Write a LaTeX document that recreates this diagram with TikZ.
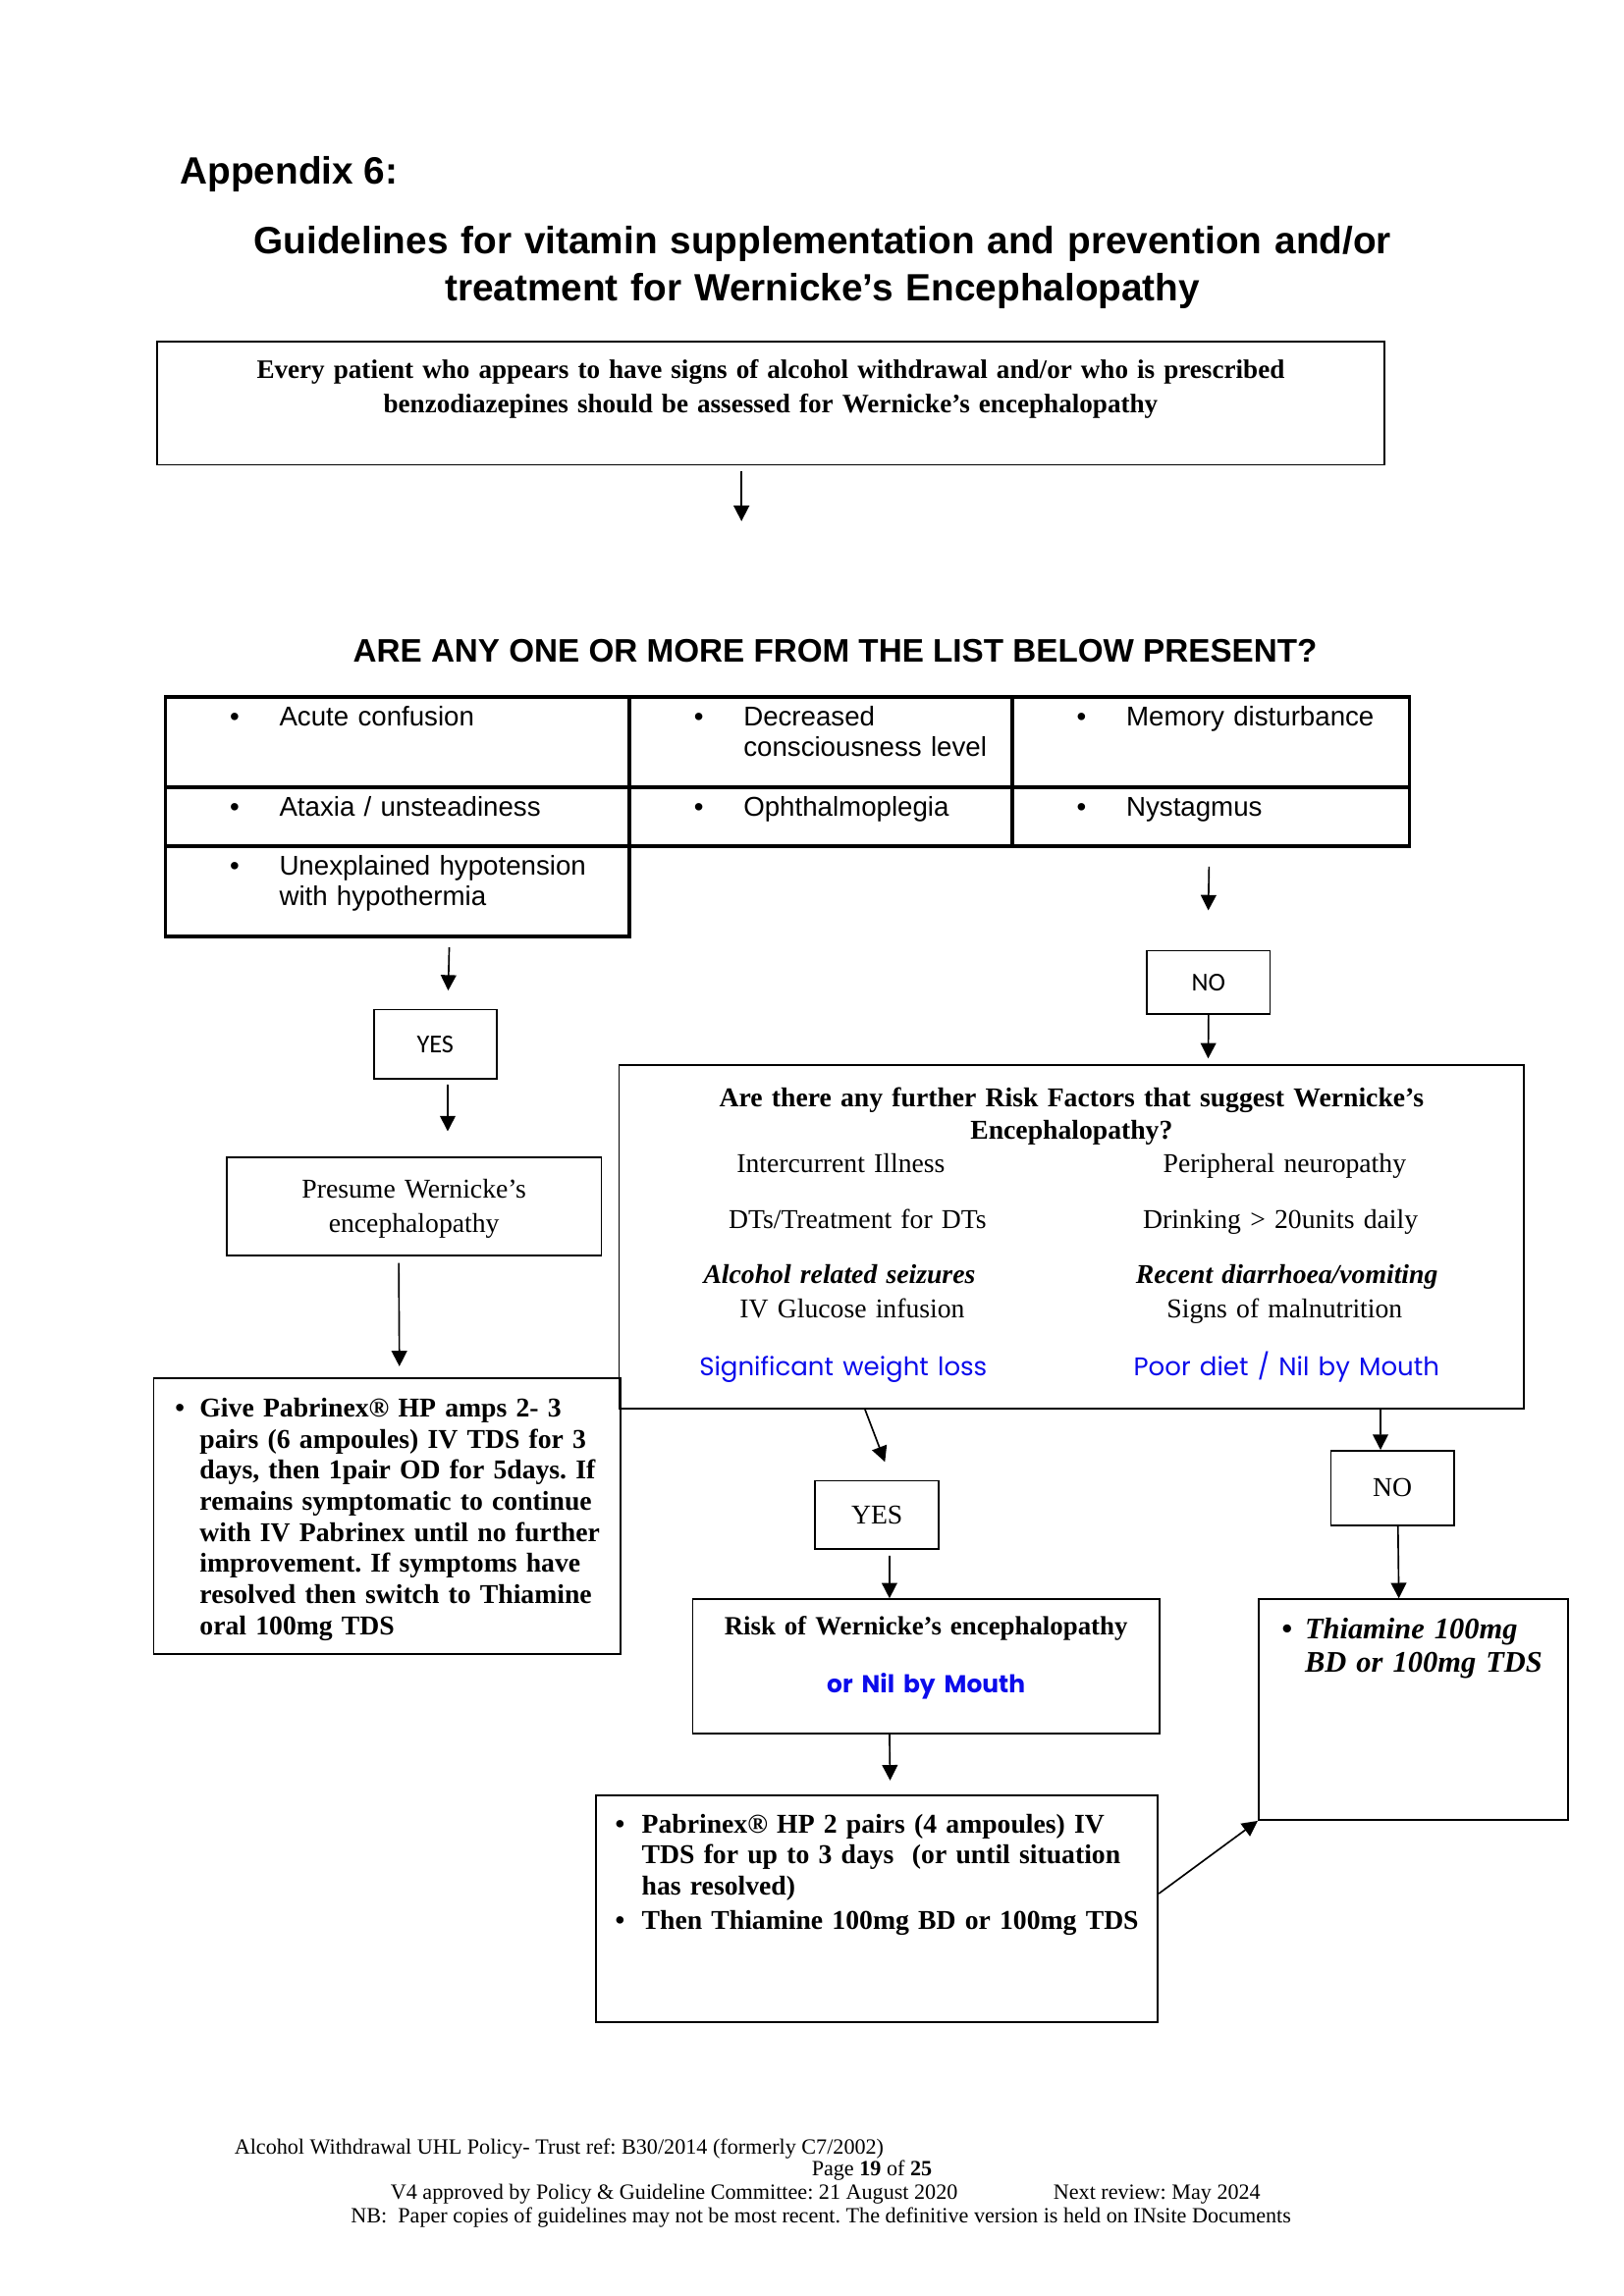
\documentclass[tikz,border=0pt]{standalone}
\usepackage{fontspec}
\setmainfont{Liberation Serif}
\newfontfamily\arial{Liberation Sans}
\newfontfamily\gothic{Poppins}
\newfontfamily\calib{Carlito}
\usetikzlibrary{arrows.meta}
\definecolor{nbm}{RGB}{12,12,235}
\frenchspacing

\newcommand\puce[2]{\makebox[#1][l]{\hspace{#2}\textbullet}}

\tikzset{boite/.style = {draw, line width=0.6pt, inner sep=0pt},
         cell/.style = {draw, line width=1.3pt, inner sep=0pt, anchor=north west, align=left,
                        font=\arial\fontsize{10}{11.3}\selectfont, text height=0.377cm},
         oui/.style = {boite, font=\calib\fontsize{9.5}{11}\selectfont},
         fl/.style = {-{Triangle[length=2mm,width=2mm]}, line width=0.6pt},
         txt/.style = {inner sep=0pt},
         pied/.style = {txt, anchor=base west, font=\fontsize{8}{9.6}\selectfont}
        }

\begin{document}
\begin{tikzpicture}
\useasboundingbox (0,0) rectangle (21,-29.7);
\node[txt, anchor=base west, font=\arial\bfseries\fontsize{14}{17}\selectfont] (app) at (2.323,-2.379) {Appendix 6:};
\node[txt, anchor=base, text width=18cm, align=center, font=\arial\bfseries\fontsize{14}{17.38}\selectfont] (titre) at (10.637,-3.280) {Guidelines for vitamin supplementation and prevention and/or\\treatment for Wernicke’s Encephalopathy};
\node[boite, anchor=north, text width=15.874cm, align=center, text height=0.468cm, text depth=1.122cm, font=\bfseries\fontsize{9.8}{12.64}\selectfont] (top) at (9.967,-4.411) {Every patient who appears to have signs of alcohol withdrawal and/or who is prescribed\\benzodiazepines should be assessed for Wernicke’s encephalopathy};
\coordinate (q1) at (9.589,-6.742);
\node[txt, anchor=base, font=\arial\bfseries\fontsize{12}{14}\selectfont] (quest) at (10.800,-8.570) {ARE ANY ONE OR MORE FROM THE LIST BELOW PRESENT?};

\node[cell, text width=6.003cm, text depth=0.791cm] (c11) at (2.116,-8.989) {\puce{1.474cm}{0.833cm}Acute confusion};
\node[cell, text width=4.950cm, text depth=0.791cm] (c12) at (8.119,-8.989) {\puce{1.474cm}{0.833cm}Decreased\\\hspace*{1.474cm}consciousness level};
\node[cell, text width=5.138cm, text depth=0.791cm] (c13) at (13.069,-8.989) {\puce{1.474cm}{0.833cm}Memory disturbance};
\node[cell, text width=6.003cm, text depth=0.385cm] (c21) at (2.116,-10.157) {\puce{1.474cm}{0.833cm}Ataxia / unsteadiness};
\node[cell, text width=4.950cm, text depth=0.385cm] (c22) at (8.119,-10.157) {\puce{1.474cm}{0.833cm}Ophthalmoplegia};
\node[cell, text width=5.138cm, text depth=0.385cm] (c23) at (13.069,-10.157) {\puce{1.474cm}{0.833cm}Nystagmus};
\node[cell, text width=6.003cm, text depth=0.798cm] (c31) at (2.116,-10.919) {\puce{1.474cm}{0.833cm}Unexplained hypotension\\\hspace*{1.474cm}with hypothermia};

\node[oui, minimum width=1.590cm, minimum height=0.901cm] (yes1) at (5.629,-13.508) {YES};
\node[oui, minimum width=1.590cm, minimum height=0.825cm] (no1) at (15.629,-12.708) {NO};
\node[boite, anchor=north, text width=4.849cm, align=center, text height=0.528cm, text depth=0.741cm, font=\fontsize{10}{12.6}\selectfont] (presume) at (5.354,-14.962) {Presume Wernicke’s\\encephalopathy};
\node[boite, anchor=north west, text width=6.035cm, align=left, text height=0.499cm, text depth=3.068cm, font=\bfseries\fontsize{10}{11.44}\selectfont] (pab1) at (1.977,-17.819) {\puce{0.596cm}{0.277cm}Give Pabrinex® HP amps 2- 3\\\hspace*{0.596cm}pairs (6 ampoules) IV TDS for 3\\\hspace*{0.596cm}days, then 1pair OD for 5days. If\\\hspace*{0.596cm}remains symptomatic to continue\\\hspace*{0.596cm}with IV Pabrinex until no further\\\hspace*{0.596cm}improvement. If symptoms have\\\hspace*{0.596cm}resolved then switch to Thiamine\\\hspace*{0.596cm}oral 100mg TDS};

\node[boite, anchor=north, text width=11.703cm, align=center, text height=0.541cm, text depth=3.902cm, font=\bfseries\fontsize{10}{12}\selectfont] (risk) at (13.858,-13.764) {Are there any further Risk Factors that suggest Wernicke’s\\Encephalopathy?};
\node[txt, anchor=base, text width=5.6cm, align=center, font=\fontsize{10}{12.4}\selectfont] (colg) at (10.949,-15.173) {\hspace*{-1.49mm}Intercurrent Illness\\[2.81mm]\hspace*{2.82mm}DTs/Treatment for DTs\\[2.82mm]\hspace*{-1.87mm}\textbf{\textit{Alcohol related seizures}}\\\hspace*{1.45mm}IV Glucose infusion\\[3.11mm]\hspace*{-0.88mm}{\gothic\fontsize{9.4}{12.4}\selectfont\color{nbm}Significant weight loss}};
\node[txt, anchor=base, text width=5.6cm, align=center, font=\fontsize{10}{12.4}\selectfont] (cold) at (16.613,-15.173) {Peripheral neuropathy\\[2.81mm]\hspace*{-1.07mm}Drinking > 20units daily\\[2.82mm]\hspace*{0.57mm}\textbf{\textit{Recent diarrhoea/vomiting}}\\Signs of malnutrition\\[3.11mm]\hspace*{0.5mm}{\gothic\fontsize{9.4}{12.4}\selectfont\color{nbm}Poor diet / Nil by Mouth}};

\node[boite, minimum width=1.600cm, minimum height=0.884cm, font=\fontsize{10}{12}\selectfont] (yes2) at (11.341,-19.597) {YES};
\node[boite, minimum width=1.592cm, minimum height=0.966cm, font=\fontsize{10}{12}\selectfont] (no2) at (18.007,-19.248) {NO};
\node[boite, anchor=north, text width=6.039cm, align=center, text height=0.465cm, text depth=1.270cm, font=\bfseries\fontsize{9.7}{12}\selectfont] (risk2) at (11.976,-20.675) {Risk of Wernicke’s encephalopathy\\[3.25mm]{\gothic\fontsize{9}{12}\selectfont\color{nbm}or Nil by Mouth}};
\node[boite, anchor=north west, text width=4.001cm, align=left, text height=0.507cm, text depth=2.350cm, font=\bfseries\itshape\fontsize{11}{12.6}\selectfont] (thia) at (16.265,-20.675) {\puce{0.600cm}{0.301cm}Thiamine 100mg\\\hspace*{0.600cm}BD or 100mg TDS};
\node[boite, anchor=north west, text width=7.264cm, align=left, text height=0.486cm, text depth=2.443cm, font=\bfseries\fontsize{10}{11.42}\selectfont] (pab2) at (7.700,-23.214) {\puce{0.590cm}{0.245cm}Pabrinex® HP 2 pairs (4 ampoules) IV\\\hspace*{0.590cm}TDS for up to 3 days\ \ (or until situation\\\hspace*{0.590cm}has resolved)\\[0.4mm]\puce{0.590cm}{0.245cm}Then Thiamine 100mg BD or 100mg TDS};

\node[pied] (f1) at (3.025,-27.869) {Alcohol Withdrawal UHL Policy- Trust ref: B30/2014 (formerly C7/2002)};
\node[pied, anchor=base] (f2) at (11.275,-28.145) {Page \textbf{19} of \textbf{25}};
\node[pied] (f3) at (5.045,-28.449) {V4 approved by Policy \& Guideline Committee: 21 August 2020};
\node[pied] (f3b) at (13.616,-28.449) {Next review: May 2024};
\node[pied] (f4) at (4.531,-28.758) {NB:\ \ Paper copies of guidelines may not be most recent. The definitive version is held on INsite Documents};

\draw[fl, shorten <=0.7mm] (top.south -| q1) -- (q1);
\draw[fl, shorten <=1.16mm, shorten >=2.34mm] ([xshift=6.72mm]c31.south) -- ([xshift=1.61mm]yes1.north);
\draw[fl, shorten <=0.59mm, shorten >=3.28mm] ([xshift=1.61mm]yes1.south) -- ([xshift=4.36mm]presume.north);
\draw[fl, shorten <=0.86mm, shorten >=1.45mm] ([xshift=-1.98mm]presume.south) -- ([xshift=1.61mm]pab1.north);
\draw[fl, shorten <=2.46mm, shorten >=5.08mm] ([xshift=-0.21mm]c23.south) -- ([xshift=-0.12mm]no1.north);
\draw[fl, shorten >=0.72mm] (no1.south) -- ([xshift=17.66mm]risk.north);
\draw[fl, shorten >=2.51mm] ([xshift=-26.73mm]risk.south) -- ([xshift=1.92mm]yes2.north);
\draw[fl, shorten <=0.76mm] ([xshift=1.62mm]yes2.south) -- ([xshift=-4.73mm]risk2.north);
\draw[fl, shorten >=1.83mm] ([xshift=-4.73mm]risk2.south) -- ([xshift=1.71mm]pab2.north);
\draw[fl] ([xshift=39.95mm]risk.south) -- ([xshift=-1.54mm]no2.north);
\draw[fl] ([xshift=0.72mm]no2.south) -- ([xshift=-1.86mm]thia.north);
\draw[fl] ([yshift=1.94mm]pab2.east) -- (thia.south west);
\end{tikzpicture}
\end{document}
